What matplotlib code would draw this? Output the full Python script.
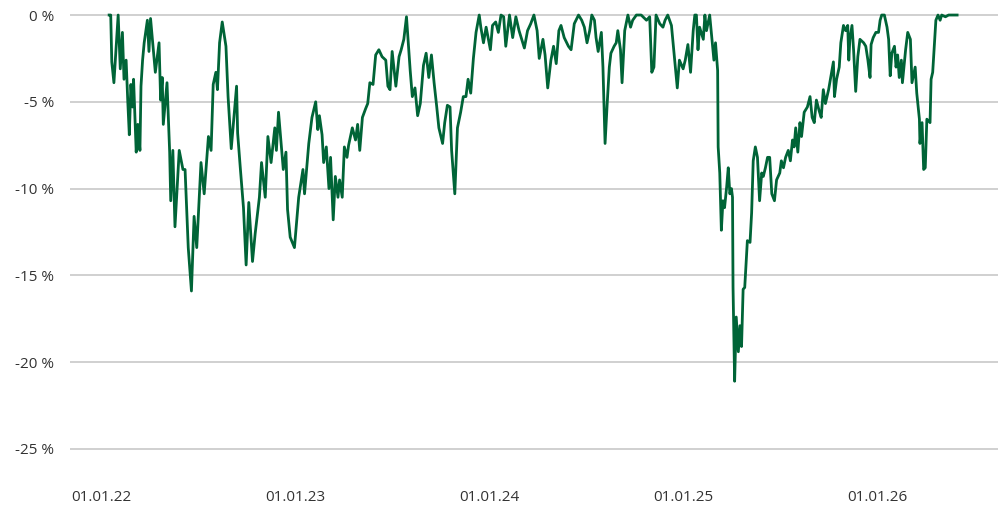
import matplotlib
matplotlib.use("Agg")
import matplotlib.pyplot as plt
import matplotlib.dates as mdates
import pandas as pd
import numpy as np

# ---- data ----
start_date = "2022-01-11"
day_offsets = [
    4, 7, 9, 13, 21, 25, 29, 32, 36, 39, 42, 45, 48, 50, 55, 58, 62, 64, 67, 70,
    76, 79, 82, 86, 91, 98, 101, 104, 106, 113, 118, 120, 124, 128, 136, 143, 147, 153, 159, 164,
    169, 177, 183, 191, 196, 200, 205, 208, 212, 217, 224, 228, 234, 244, 246, 251, 257, 262, 267, 274,
    279, 287, 291, 298, 303, 309, 316, 319, 323, 332, 337, 340, 345, 353, 361, 369, 372, 380, 386, 393,
    397, 400, 405, 408, 413, 418, 421, 426, 430, 435, 438, 443, 447, 452, 455, 462, 468, 472, 476, 481,
    487, 491, 495, 501, 506, 512, 518, 525, 529, 533, 537, 544, 550, 554, 559, 564, 571, 575, 580, 585,
    590, 596, 601, 606, 611, 616, 621, 625, 632, 636, 641, 646, 649, 655, 660, 666, 671, 676, 680, 685,
    690, 695, 701, 704, 709, 714, 722, 726, 732, 737, 742, 747, 751, 758, 764, 770, 776, 780, 786, 792,
    798, 804, 810, 814, 821, 825, 830, 836, 841, 846, 851, 855, 861, 869, 874, 880, 888, 894, 899, 904,
    909, 913, 918, 921, 925, 931, 934, 938, 942, 946, 949, 955, 959, 962, 967, 970, 975, 981, 986, 990,
    997, 1006, 1016, 1022, 1026, 1030, 1034, 1041, 1047, 1051, 1056, 1063, 1069, 1074, 1078, 1085, 1089, 1094, 1099, 1104,
    1107, 1110, 1113, 1116, 1123, 1126, 1129, 1135, 1140, 1143, 1146, 1150, 1151, 1154, 1157, 1160, 1163, 1167, 1170, 1173,
    1176, 1178, 1179, 1182, 1185, 1189, 1192, 1195, 1198, 1201, 1206, 1211, 1214, 1217, 1221, 1225, 1229, 1233, 1236, 1240,
    1244, 1248, 1252, 1257, 1261, 1267, 1270, 1274, 1278, 1283, 1287, 1291, 1294, 1297, 1301, 1305, 1308, 1313, 1319, 1324,
    1328, 1332, 1336, 1341, 1345, 1349, 1353, 1359, 1363, 1368, 1370, 1374, 1379, 1382, 1387, 1391, 1395, 1397, 1399, 1403,
    1406, 1410, 1414, 1418, 1425, 1429, 1433, 1437, 1439, 1443, 1448, 1453, 1456, 1459, 1464, 1469, 1472, 1475, 1478, 1483,
    1486, 1489, 1492, 1496, 1498, 1502, 1504, 1508, 1513, 1516, 1522, 1525, 1530, 1531, 1535, 1538, 1541, 1544, 1550, 1552,
    1555, 1559, 1561, 1565, 1569, 1572, 1579, 1585, 1591, 1597, 1601,
]
drawdown_pct = [
    0.0, 0.0, -2.7, -3.9, 0.0, -3.1, -1.0, -3.7, -2.6, -4.9, -6.9, -4.0, -5.3, -3.7, -7.9, -6.3, -7.8, -4.1, -2.6, -1.6,
    -0.3, -2.1, -0.2, -1.6, -3.3, -1.6, -4.9, -3.6, -6.3, -3.9, -7.9, -10.7, -7.8, -12.2, -7.8, -8.9, -8.9, -13.4, -15.9, -11.6,
    -13.4, -8.5, -10.3, -7.0, -7.8, -4.0, -3.3, -4.3, -1.6, -0.4, -1.8, -4.7, -7.7, -4.1, -6.8, -8.8, -11.1, -14.4, -10.8, -14.2,
    -12.6, -10.5, -8.5, -10.5, -7.0, -8.5, -6.5, -7.8, -5.6, -8.9, -7.9, -11.2, -12.8, -13.4, -10.5, -8.9, -10.3, -7.4, -5.9, -5.0,
    -6.6, -5.8, -6.9, -8.5, -7.6, -10.0, -8.2, -11.8, -9.3, -10.5, -9.5, -10.5, -7.6, -8.2, -7.5, -6.5, -7.2, -6.3, -7.8, -5.9,
    -5.4, -5.1, -3.9, -4.0, -2.3, -2.0, -2.4, -2.6, -4.1, -4.3, -2.1, -4.1, -2.4, -2.0, -1.4, -0.1, -3.2, -4.7, -4.2, -5.8,
    -5.1, -2.9, -2.2, -3.6, -2.3, -3.9, -5.3, -6.5, -7.4, -6.2, -5.2, -5.3, -7.8, -10.3, -6.5, -5.6, -4.7, -4.7, -3.7, -4.5,
    -2.5, -1.0, 0.0, -0.7, -1.6, -0.7, -2.0, -0.6, -0.4, -1.0, 0.0, -0.1, -1.8, 0.0, -1.3, -0.1, -0.9, -1.3, -1.9, -0.9,
    -0.5, 0.0, -0.9, -2.5, -1.4, -2.3, -4.2, -2.6, -1.8, -2.8, -0.9, -0.6, -1.3, -1.8, -2.0, -0.5, 0.0, -0.3, -0.7, -1.6,
    -0.9, 0.0, -0.3, -1.3, -2.1, -1.0, -3.0, -7.4, -5.1, -3.0, -2.2, -1.8, -1.6, -0.9, -2.0, -3.9, -0.9, 0.0, -0.7, -0.3,
    0.0, 0.0, -0.3, -0.1, -3.3, -3.0, 0.0, -0.5, -0.7, -0.3, 0.0, -0.6, -2.6, -4.2, -2.6, -3.1, -2.6, -1.7, -3.3, -0.9,
    0.0, 0.0, -2.0, -0.7, -1.4, 0.0, -0.9, 0.0, -1.6, -2.6, -1.6, -3.2, -7.6, -9.1, -12.4, -10.7, -11.1, -9.9, -8.8, -10.3,
    -10.0, -10.5, -15.7, -21.1, -17.4, -19.4, -17.9, -19.1, -15.8, -15.7, -13.0, -13.1, -11.4, -8.4, -7.6, -8.2, -10.7, -9.1, -9.3, -8.8,
    -8.2, -8.2, -10.3, -10.7, -9.5, -9.1, -8.4, -8.8, -8.2, -7.8, -8.4, -7.2, -7.6, -6.5, -7.9, -6.2, -7.0, -5.6, -5.3, -4.7,
    -5.9, -6.2, -4.9, -5.5, -5.9, -4.3, -5.1, -4.3, -3.6, -2.7, -4.7, -3.7, -3.0, -1.6, -0.6, -0.9, -0.6, -2.6, -1.4, -0.6,
    -2.0, -4.4, -2.4, -1.4, -1.6, -1.8, -2.6, -3.6, -1.7, -1.3, -1.0, -1.0, -0.3, 0.0, 0.0, -0.7, -1.4, -3.5, -2.2, -1.8,
    -3.0, -2.3, -3.6, -2.6, -3.9, -2.6, -2.0, -1.0, -1.4, -3.9, -3.0, -4.5, -6.0, -7.4, -6.2, -8.9, -8.8, -6.0, -6.2, -3.7,
    -3.3, -1.3, -0.3, 0.0, -0.3, 0.0, -0.1, 0.0, 0.0, 0.0, 0.0,
]
y_ticks = [0, -5, -10, -15, -20, -25]
y_tick_labels = ["0 %", "-5 %", "-10 %", "-15 %", "-20 %", "-25 %"]
x_tick_dates = ["2022-01-01", "2023-01-01", "2024-01-01", "2025-01-01", "2026-01-01"]

# ---- build ----
dates = pd.Timestamp(start_date) + pd.to_timedelta(day_offsets, unit="D")
series = pd.Series(drawdown_pct, index=dates)

plt.rcParams['font.family'] = ['Open Sans', 'DejaVu Sans']
text_color = "#333333"
line_color = "#006437"
grid_color = "#c8c8c8"

fig = plt.figure(figsize=(10.04, 5.09), dpi=100)
ax = fig.add_axes([70 / 1004, (509 - 455) / 509, 928 / 1004, 445 / 509])

ax.plot(series.index, series.values, color=line_color, linewidth=2.0, solid_joinstyle="round")

origin = pd.Timestamp("2022-01-01")
ax.set_xlim(origin - pd.Timedelta(days=59.7), origin + pd.Timedelta(days=1688))
ax.set_ylim(-25.35, 0.29)

ax.set_yticks(y_ticks)
ax.set_yticklabels(y_tick_labels)
ax.set_xticks(pd.to_datetime(x_tick_dates))
ax.xaxis.set_major_formatter(mdates.DateFormatter("%d.%m.%y"))

ax.grid(axis="y", color=grid_color, linewidth=1.2)
ax.grid(axis="x", visible=False)
ax.set_axisbelow(True)
for s in ax.spines.values():
    s.set_visible(False)
ax.tick_params(axis="both", length=0, labelsize=11, labelcolor=text_color)
ax.tick_params(axis="y", pad=11.5)
ax.tick_params(axis="x", pad=25)

fig.savefig("out.png", dpi=100)
